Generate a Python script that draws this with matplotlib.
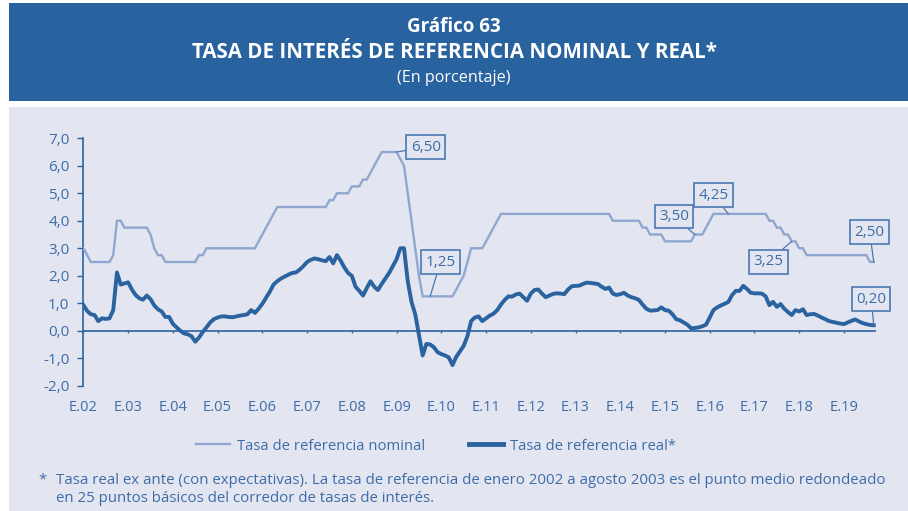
import numpy as np
import matplotlib
matplotlib.use("Agg")
import matplotlib.pyplot as plt
from matplotlib.patches import Rectangle
from matplotlib.lines import Line2D

plt.rcParams['font.family'] = ['Open Sans', 'DejaVu Sans']

# monthly series, Jan 2002 - Sep 2019
nominal = (
    [3.0, 2.75, 2.5, 2.5, 2.5, 2.5, 2.5, 2.5, 2.75, 4.0, 4.0, 3.75]          # 2002
    + [3.75, 3.75, 3.75, 3.75, 3.75, 3.75, 3.5, 3.0, 2.75, 2.75, 2.5, 2.5]  # 2003
    + [2.5, 2.5, 2.5, 2.5, 2.5, 2.5, 2.5, 2.75, 2.75, 3.0, 3.0, 3.0]        # 2004
    + [3.0, 3.0, 3.0, 3.0, 3.0, 3.0, 3.0, 3.0, 3.0, 3.0, 3.0, 3.25]         # 2005
    + [3.5, 3.75, 4.0, 4.25, 4.5, 4.5, 4.5, 4.5, 4.5, 4.5, 4.5, 4.5]        # 2006
    + [4.5, 4.5, 4.5, 4.5, 4.5, 4.5, 4.75, 4.75, 5.0, 5.0, 5.0, 5.0]       # 2007
    + [5.25, 5.25, 5.25, 5.5, 5.5, 5.75, 6.0, 6.25, 6.5, 6.5, 6.5, 6.5]    # 2008
    + [6.5, 6.25, 6.0, 5.0, 4.0, 3.0, 2.0, 1.25, 1.25, 1.25, 1.25, 1.25]   # 2009
    + [1.25, 1.25, 1.25, 1.25, 1.5, 1.75, 2.0, 2.5, 3.0, 3.0, 3.0, 3.0]    # 2010
    + [3.25, 3.5, 3.75, 4.0, 4.25, 4.25, 4.25, 4.25, 4.25, 4.25, 4.25, 4.25]  # 2011
    + [4.25] * 12                                                           # 2012
    + [4.25] * 10 + [4.0, 4.0]                                              # 2013
    + [4.0] * 6 + [3.75, 3.75, 3.5, 3.5, 3.5, 3.5]                          # 2014
    + [3.25] * 8 + [3.5, 3.5, 3.5, 3.75]                                    # 2015
    + [4.0] + [4.25] * 11                                                   # 2016
    + [4.25] * 4 + [4.0, 4.0, 3.75, 3.75, 3.5, 3.5, 3.25, 3.25]             # 2017
    + [3.0, 3.0] + [2.75] * 10                                              # 2018
    + [2.75] * 7 + [2.5, 2.5]                                               # 2019
)

real = (
    [0.93, 0.72, 0.60, 0.57, 0.35, 0.45, 0.43, 0.45, 0.75, 2.12, 1.68, 1.72]
    + [1.76, 1.50, 1.30, 1.18, 1.13, 1.28, 1.15, 0.92, 0.78, 0.70, 0.50, 0.50]
    + [0.25, 0.12, 0.00, -0.10, -0.13, -0.20, -0.40, -0.25, -0.05, 0.12, 0.30, 0.42]
    + [0.48, 0.52, 0.52, 0.50, 0.49, 0.52, 0.55, 0.57, 0.60, 0.75, 0.65, 0.80]
    + [0.98, 1.20, 1.42, 1.68, 1.80, 1.90, 1.97, 2.04, 2.10, 2.12, 2.22, 2.35]
    + [2.50, 2.58, 2.63, 2.60, 2.56, 2.53, 2.68, 2.45, 2.75, 2.55, 2.30, 2.10]
    + [2.00, 1.60, 1.45, 1.28, 1.55, 1.80, 1.60, 1.48, 1.70, 1.90, 2.10, 2.35]
    + [2.60, 3.00, 3.00, 1.80, 1.05, 0.60, -0.15, -0.90, -0.48, -0.50, -0.60, -0.78]
    + [-0.85, -0.90, -0.97, -1.25, -0.95, -0.75, -0.55, -0.20, 0.35, 0.48, 0.52, 0.35]
    + [0.45, 0.55, 0.62, 0.75, 0.95, 1.12, 1.25, 1.24, 1.32, 1.35, 1.22, 1.09]
    + [1.35, 1.48, 1.50, 1.35, 1.22, 1.28, 1.34, 1.36, 1.35, 1.33, 1.50, 1.62]
    + [1.63, 1.64, 1.70, 1.75, 1.74, 1.72, 1.70, 1.60, 1.52, 1.57, 1.35, 1.30]
    + [1.33, 1.38, 1.28, 1.22, 1.18, 1.12, 0.95, 0.80, 0.73, 0.74, 0.75, 0.85]
    + [0.75, 0.73, 0.60, 0.42, 0.38, 0.30, 0.22, 0.09, 0.10, 0.12, 0.16, 0.22]
    + [0.48, 0.75, 0.85, 0.92, 0.98, 1.05, 1.30, 1.45, 1.45, 1.63, 1.52, 1.38]
    + [1.36, 1.36, 1.35, 1.25, 0.93, 1.05, 0.87, 0.97, 0.80, 0.68, 0.57, 0.75]
    + [0.70, 0.78, 0.57, 0.60, 0.61, 0.55, 0.48, 0.42, 0.35, 0.32, 0.29, 0.26]
    + [0.24, 0.30, 0.36, 0.41, 0.34, 0.28, 0.24, 0.21, 0.20]
)

year_labels = ['E.%02d' % y for y in range(2, 20)]
y_ticks = list(range(-2, 8))

# callouts: (series, month index, text x, text y)
callouts = [
    ('nom', 84, 91.8, 6.68),
    ('nom', 93, 95.8, 2.50),
    ('nom', 164, 158.4, 4.15),
    ('nom', 173, 169.0, 4.93),
    ('nom', 190, 183.7, 2.51),
    ('nom', 212, 210.9, 3.59),
    ('real', 212, 211.3, 1.15),
]

dark = '#2a63a0'
light = '#8fa7d0'
txt = '#3d6ca7'
panel = '#e3e6f1'

W, H = 908, 511
fig = plt.figure(figsize=(W / 100, H / 100), dpi=100)
fig.patch.set_facecolor('white')

# header band and grey-blue panel
fig.add_artist(Rectangle((9 / W, 1 - 101.5 / H), (W - 9) / W, 98.5 / H,
                         transform=fig.transFigure, facecolor='#28629f',
                         edgecolor='none', zorder=0))
fig.add_artist(Rectangle((9 / W, 0), (W - 9) / W, 1 - 107 / H,
                         transform=fig.transFigure, facecolor=panel,
                         edgecolor='none', zorder=0))

fig.text(0.5, 1 - 27 / H, 'Gráfico 63', color='white', fontsize=13.5,
         fontweight='bold', ha='center', va='center')
fig.text(0.5, 1 - 53 / H, 'TASA DE INTERÉS DE REFERENCIA NOMINAL Y REAL*',
         color='white', fontsize=14.8, fontweight='bold', ha='center', va='center')
fig.text(0.5, 1 - 78 / H, '(En porcentaje)', color='white', fontsize=11.6,
         ha='center', va='center')

ax = fig.add_axes([82.7 / W, 1 - 385.7 / H, (876 - 82.7) / W, (385.7 - 138.3) / H])
ax.set_facecolor(panel)

x = np.arange(len(real))
ax.plot(x, nominal, color=light, lw=1.7, solid_joinstyle='miter', zorder=3)
ax.plot(x, real, color=dark, lw=2.8, zorder=4)
ax.axhline(0, color=dark, lw=1.2, zorder=2)

xt = np.arange(0, len(real), 12)
ax.vlines(xt, -0.1, 0, color=dark, lw=1, zorder=2)

ax.set_xlim(-0.19, 212.6)
ax.set_ylim(-2, 7)
ax.set_xticks(xt)
ax.set_xticklabels(year_labels)
ax.set_yticks(y_ticks)
ax.set_yticklabels([('%.1f' % v).replace('.', ',') for v in y_ticks])
ax.tick_params(axis='x', length=0, pad=10, labelsize=10.5, labelcolor=txt)
ax.tick_params(axis='y', length=4, width=1, color=dark, pad=5.5,
               labelsize=11, labelcolor=txt)
for s in ['top', 'right', 'bottom']:
    ax.spines[s].set_visible(False)
ax.spines['left'].set_color(dark)
ax.spines['left'].set_linewidth(1.2)

for name, i, tx, ty in callouts:
    v = nominal[i] if name == 'nom' else real[i]
    ax.annotate(('%.2f' % v).replace('.', ','), xy=(i, v), xytext=(tx, ty),
                ha='center', va='center', fontsize=11, color=txt,
                bbox=dict(boxstyle='square,pad=0.28', fc=panel, ec='#4a78b2', lw=1.2),
                arrowprops=dict(arrowstyle='-', color='#4a78b2', lw=0.9,
                                shrinkA=0, shrinkB=0),
                zorder=6)

handles = [Line2D([], [], color=light, lw=1.7),
           Line2D([], [], color=dark, lw=3.5)]
fig.legend(handles, ['Tasa de referencia nominal', 'Tasa de referencia real*'],
           loc='center', bbox_to_anchor=(436 / W, 1 - 446 / H), ncol=2,
           frameon=False, fontsize=10.7, labelcolor=txt, handlelength=2.3,
           handletextpad=0.47, columnspacing=2.9)

fig.text(38 / W, 1 - 480 / H, '*', color=txt, fontsize=10.8, va='center')
fig.text(56 / W, 1 - 480 / H,
         'Tasa real ex ante (con expectativas). La tasa de referencia de enero 2002 '
         'a agosto 2003 es el punto medio redondeado',
         color=txt, fontsize=10.8, va='center')
fig.text(56 / W, 1 - 498 / H,
         'en 25 puntos básicos del corredor de tasas de interés.',
         color=txt, fontsize=10.8, va='center')

fig.savefig('out.png', dpi=100)
